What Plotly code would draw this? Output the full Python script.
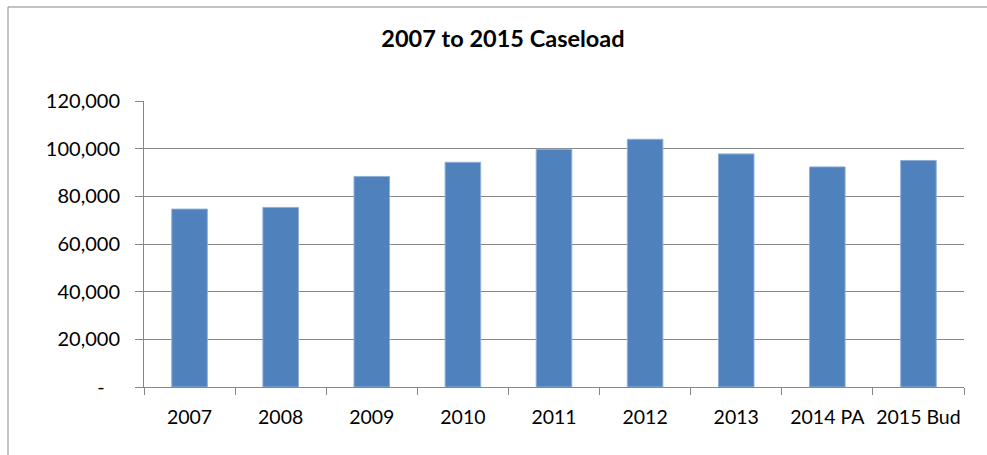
import plotly.graph_objects as go

categories = ["2007", "2008", "2009", "2010", "2011", "2012", "2013", "2014 PA", "2015 Bud"]
caseload = [74650, 75350, 88350, 94300, 99750, 103950, 97800, 92350, 95050]
y_tick_vals = [0, 20000, 40000, 60000, 80000, 100000, 120000]
y_tick_text = ["-\u00a0\u00a0\u00a0", "20,000", "40,000", "60,000", "80,000", "100,000", "120,000"]
title_text = "2007 to 2015 Caseload"

W, H = 987, 455
L, R, T, B = 144, 23, 101, 68
pw, ph = W - L - R, H - T - B

fig = go.Figure()
fig.add_trace(go.Bar(
    x=categories, y=caseload,
    marker=dict(color="#4F81BD", line=dict(color="#8FAED6", width=1)),
    width=0.39,
))

grey = "#878787"
font_family = "Lato, 'Open Sans', sans-serif"

def px_to_paper_x(px):
    return (px - L) / pw

def px_to_paper_y(py):
    return (H - B - py) / ph

fig.update_layout(
    width=W, height=H,
    margin=dict(l=L, r=R, t=T, b=B, autoexpand=False),
    paper_bgcolor="white", plot_bgcolor="white",
    showlegend=False,
    title=dict(text="<b>" + title_text + "</b>", x=503 / W, xref="container", xanchor="center",
               y=1 - 39 / H, yref="container", yanchor="middle",
               font=dict(family=font_family, size=23.5, color="black")),
    font=dict(family=font_family, size=20, color="black"),
    xaxis=dict(
        type="category", showline=True, linecolor=grey, linewidth=1,
        ticks="outside", tickson="boundaries", ticklen=7, tickcolor=grey,
        showgrid=False, ticklabelstandoff=13, tickangle=0, automargin=False,
        tickfont=dict(family=font_family, size=19.5, color="black"),
    ),
    yaxis=dict(
        range=[0, 120000], tickvals=y_tick_vals, ticktext=y_tick_text,
        showline=True, linecolor=grey, linewidth=1,
        ticks="outside", ticklen=8, tickcolor=grey,
        showgrid=True, gridcolor=grey, gridwidth=1,
        ticklabelstandoff=11, zeroline=False, automargin=False,
        tickfont=dict(family=font_family, size=20, color="black"),
    ),
    shapes=[
        dict(type="rect", xref="paper", yref="paper",
             x0=px_to_paper_x(8), x1=px_to_paper_x(1000),
             y0=px_to_paper_y(470), y1=px_to_paper_y(7),
             line=dict(color=grey, width=1), fillcolor="rgba(0,0,0,0)", layer="below"),
    ],
)

fig.write_html("out.html", config={"displayModeBar": False},
               post_script="document.body.style.margin='0px';")
